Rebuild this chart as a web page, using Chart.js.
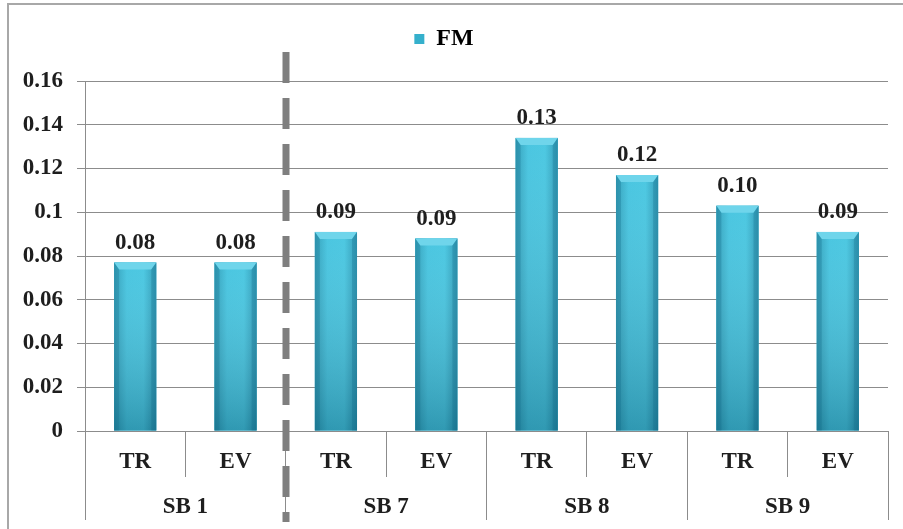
<!DOCTYPE html>
<html><head><meta charset="utf-8">
<script src="https://cdn.jsdelivr.net/npm/chart.js@4.4.1/dist/chart.umd.min.js"></script>
<style>html,body{margin:0;padding:0;background:#fff;overflow:hidden}#wrap{width:903px;height:529px;position:relative}</style>
</head><body><div id="wrap"><canvas id="c" width="903" height="529"></canvas></div>
<script>
const categories = ['TR', 'EV', 'TR', 'EV', 'TR', 'EV', 'TR', 'EV'];
const groups = ['SB 1', 'SB 7', 'SB 8', 'SB 9'];
const seriesName = 'FM';
const fmValues = [0.077, 0.077, 0.091, 0.088, 0.134, 0.117, 0.103, 0.091];
const yMin = 0, yMax = 0.16, yStep = 0.02;

const FONT = "'Liberation Serif', 'Times New Roman', serif";
const GRID = '#8c8c8c';
const TXT = '#1e1e1e';

const framePlugin = {
  id: 'frame',
  beforeDraw(chart) {
    const c = chart.ctx;
    c.save();
    c.fillStyle = '#fff';
    c.fillRect(0, 0, chart.width, chart.height);
    c.strokeStyle = '#a8a8a8';
    c.lineWidth = 2;
    c.beginPath();
    c.moveTo(8, chart.height); c.lineTo(8, 4); c.lineTo(chart.width, 4);
    c.stroke();
    c.restore();
  }
};

const legendFix = {
  id: 'legendFix',
  beforeLayout(chart) {
    const lg = chart.legend;
    if (lg && !lg._patched) {
      const f = lg.fit.bind(lg);
      lg.fit = function () { f(); this.height = 81; };
      lg._patched = true;
    }
  }
};

const barStyle = {
  id: 'barStyle',
  afterDatasetsDraw(chart) {
    const c = chart.ctx;
    const meta = chart.getDatasetMeta(0);
    c.save();
    meta.data.forEach((el, i) => {
      const p = el.getProps(['x', 'y', 'base', 'width'], true);
      const l = p.x - p.width / 2, r = p.x + p.width / 2, t = p.y, b = p.base;
      const hg = c.createLinearGradient(l, 0, r, 0);
      hg.addColorStop(0, '#2b9cb7');
      hg.addColorStop(0.3, '#41c3df');
      hg.addColorStop(0.7, '#43c5e0');
      hg.addColorStop(1, '#2896b3');
      c.fillStyle = hg;
      c.fillRect(l, t, r - l, b - t);
      const vg = c.createLinearGradient(0, t, 0, b);
      vg.addColorStop(0, 'rgba(255,255,255,0.05)');
      vg.addColorStop(1, 'rgba(0,40,60,0.28)');
      c.fillStyle = vg;
      c.fillRect(l, t, r - l, b - t);
      // top bevel
      c.fillStyle = '#6fd5eb';
      c.beginPath();
      c.moveTo(l, t); c.lineTo(r, t); c.lineTo(r - 5, t + 7); c.lineTo(l + 5, t + 7); c.closePath();
      c.fill();
      c.fillStyle = 'rgba(20,110,140,0.30)';
      c.beginPath();
      c.moveTo(l, t); c.lineTo(l + 5, t + 7); c.lineTo(l + 5, b); c.lineTo(l, b); c.closePath();
      c.fill();
      c.beginPath();
      c.moveTo(r, t); c.lineTo(r - 5, t + 7); c.lineTo(r - 5, b); c.lineTo(r, b); c.closePath();
      c.fill();
      // value label
      c.fillStyle = TXT;
      c.font = 'bold 23px ' + FONT;
      c.textAlign = 'center';
      c.textBaseline = 'alphabetic';
      c.fillText(fmValues[i].toFixed(2), p.x, t - 14);
    });
    c.restore();
  }
};

const dashLine = {
  id: 'dashLine',
  afterDraw(chart) {
    const xs = chart.scales.x;
    const x = Math.round((xs.getPixelForValue(1) + xs.getPixelForValue(2)) / 2);
    const c = chart.ctx;
    c.save();
    c.strokeStyle = '#7f7f7f';
    c.lineWidth = 7;
    c.setLineDash([31, 15]);
    c.beginPath();
    c.moveTo(x, 52); c.lineTo(x, 522);
    c.stroke();
    c.restore();
  }
};

new Chart(document.getElementById('c'), {
  type: 'bar',
  data: {
    labels: categories,
    datasets: [{
      label: seriesName,
      data: fmValues,
      backgroundColor: '#3ab8d4',
      barPercentage: 0.42,
      categoryPercentage: 1.0,
      xAxisID: 'x',
      yAxisID: 'y'
    }]
  },
  options: {
    responsive: false,
    animation: false,
    layout: { padding: { left: 0, right: 15, top: 0, bottom: 9 } },
    plugins: {
      tooltip: { enabled: false },
      legend: {
        display: true,
        position: 'top',
        labels: {
          boxWidth: 10, boxHeight: 10, padding: 27,
          color: TXT,
          font: { family: FONT, size: 24, weight: 'bold' },
          generateLabels: () => [{ text: seriesName, fillStyle: '#35b0cc', strokeStyle: '#35b0cc', lineWidth: 0, datasetIndex: 0 }]
        }
      }
    },
    scales: {
      x: {
        type: 'category', position: 'bottom', labels: categories, offset: true,
        grid: { offset: true, drawOnChartArea: false, drawTicks: true, tickLength: 46, color: GRID },
        border: { display: true, color: GRID },
        ticks: { padding: -29, autoSkip: false, maxRotation: 0, color: TXT, font: { family: FONT, size: 23, weight: 'bold' } },
        afterFit(s) { s.height = 46; }
      },
      x2: {
        type: 'category', position: 'bottom', labels: groups, offset: true,
        grid: { offset: true, drawOnChartArea: false, drawTicks: true, tickLength: 43, color: GRID },
        border: { display: false },
        ticks: { padding: -27, autoSkip: false, maxRotation: 0, color: TXT, font: { family: FONT, size: 23, weight: 'bold' } },
        afterFit(s) { s.height = 43; }
      },
      y: {
        min: yMin, max: yMax,
        ticks: {
          stepSize: yStep, padding: 14, color: TXT,
          font: { family: FONT, size: 23, weight: 'bold' },
          callback: v => String(Math.round(v * 100) / 100)
        },
        grid: { color: GRID, tickLength: 8, drawTicks: true },
        border: { color: GRID },
        afterFit(s) { s.width = 85; }
      }
    }
  },
  plugins: [framePlugin, legendFix, barStyle, dashLine]
});
</script>
</body></html>
